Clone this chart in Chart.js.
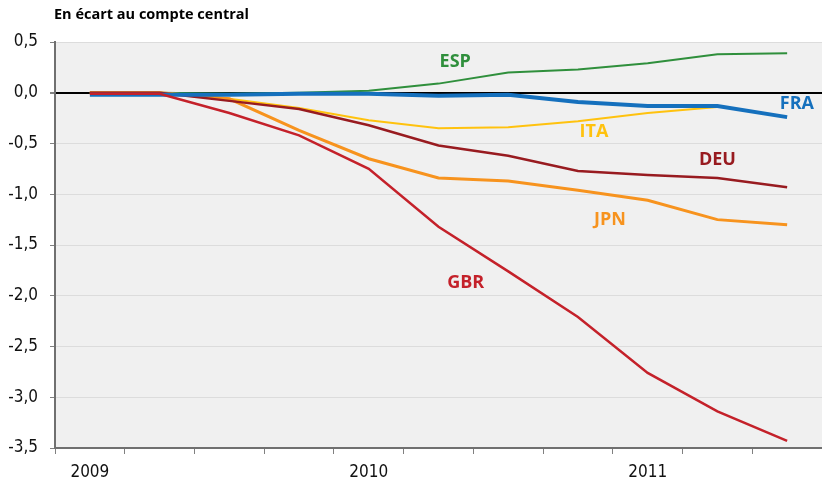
<!DOCTYPE html>
<html>
<head>
<meta charset="utf-8">
<script src="https://cdn.jsdelivr.net/npm/chart.js@4.4.1/dist/chart.umd.min.js"></script>
<style>
  html, body { margin: 0; padding: 0; background: #fff; }
  #wrap { width: 822px; height: 484px; position: relative; }
</style>
</head>
<body>
<div id="wrap"><canvas id="myChart"></canvas></div>
<script>
// quarters 2009T1 .. 2011T3
const quarters = ['2009', '', '', '', '2010', '', '', '', '2011', '', ''];

const gbr = [-0.01, -0.01, -0.20, -0.42, -0.75, -1.32, -1.76, -2.21, -2.76, -3.14, -3.43];
const fra = [-0.02, -0.02, -0.02, -0.01, -0.01, -0.03, -0.02, -0.09, -0.13, -0.13, -0.24];
const deu = [0, 0, -0.08, -0.16, -0.32, -0.52, -0.62, -0.77, -0.81, -0.84, -0.93];
const jpn = [0, 0, -0.06, -0.37, -0.65, -0.84, -0.87, -0.96, -1.06, -1.25, -1.30];
const ita = [0, 0, -0.06, -0.15, -0.27, -0.35, -0.34, -0.28, -0.20, -0.14, null];
const esp = [0, 0, -0.01, 0.0, 0.02, 0.09, 0.20, 0.23, 0.29, 0.38, 0.39];

// series labels: [text, x (category index), y (value), colour]
const seriesLabels = [
  ['ESP', 5.24, 0.30, '#2f8f3c'],
  ['FRA', 10.14, -0.11, '#1570bd'],
  ['ITA', 7.23, -0.39, '#ffc20e'],
  ['DEU', 9.0, -0.66, '#981b20'],
  ['JPN', 7.46, -1.25, '#f7931e'],
  ['GBR', 5.39, -1.87, '#c4212a']
];

const bgPlugin = {
  id: 'bg',
  beforeDraw(chart) {
    const { ctx, chartArea: a } = chart;
    ctx.save();
    ctx.fillStyle = '#f0f0f0';
    ctx.fillRect(a.left, a.top, a.right - a.left, a.bottom - a.top);
    ctx.restore();
  },
  afterDraw(chart) {
    const { ctx, chartArea: a, scales } = chart;
    ctx.save();
    // titre
    ctx.fillStyle = '#000';
    ctx.font = 'bold 14.5px "Open Sans", sans-serif';
    ctx.textBaseline = 'middle';
    ctx.textAlign = 'left';
    ctx.fillText('En écart au compte central', a.left - 1, 15);
    // étiquettes des séries
    ctx.font = 'bold 18px "Open Sans", sans-serif';
    ctx.textAlign = 'center';
    seriesLabels.forEach(l => {
      ctx.fillStyle = l[3];
      ctx.fillText(l[0], scales.x.getPixelForValue(l[1]), scales.y.getPixelForValue(l[2]));
    });
    ctx.restore();
  }
};

function ds(data, color, width) {
  return {
    data: data,
    borderColor: color,
    backgroundColor: color,
    borderWidth: width,
    pointRadius: 0,
    tension: 0,
    fill: false,
    spanGaps: false
  };
}

Chart.defaults.font.family = '"DejaVu Sans Condensed", "Liberation Sans Narrow", sans-serif';
Chart.defaults.color = '#222';

new Chart(document.getElementById('myChart').getContext('2d'), {
  type: 'line',
  data: {
    labels: quarters,
    datasets: [
      ds(gbr, '#c4212a', 2.5),
      ds(fra, '#1570bd', 4),
      ds(deu, '#981b20', 2.5),
      ds(jpn, '#f7931e', 3),
      ds(ita, '#ffc20e', 2),
      ds(esp, '#2f8f3c', 2)
    ]
  },
  options: {
    responsive: true,
    maintainAspectRatio: false,
    animation: false,
    layout: { padding: { top: 42, right: -4, left: 0, bottom: 0 } },
    plugins: {
      legend: { display: false },
      title: { display: false },
      tooltip: { enabled: false }
    },
    scales: {
      x: {
        offset: true,
        grid: {
          offset: true,
          drawOnChartArea: false,
          drawTicks: true,
          tickLength: 6,
          tickColor: '#808080'
        },
        border: { color: '#707070', width: 2 },
        ticks: {
          autoSkip: false,
          maxRotation: 0,
          font: { size: 17 },
          color: '#111',
          padding: 8
        },
        afterFit(s) { s.height = 36; }
      },
      y: {
        min: -3.5,
        max: 0.5,
        ticks: {
          stepSize: 0.5,
          font: { size: 17 },
          color: '#111',
          padding: 12,
          callback: v => v.toFixed(1).replace('.', ',')
        },
        grid: {
          color: c => c.tick && c.tick.value === 0 ? '#000' : '#dcdcdc',
          lineWidth: c => c.tick && c.tick.value === 0 ? 2 : 1,
          tickColor: '#808080',
          tickLength: 5
        },
        border: { color: '#707070', width: 2 },
        afterFit(s) { s.width = 55; }
      }
    }
  },
  plugins: [bgPlugin]
});
</script>
</body>
</html>
